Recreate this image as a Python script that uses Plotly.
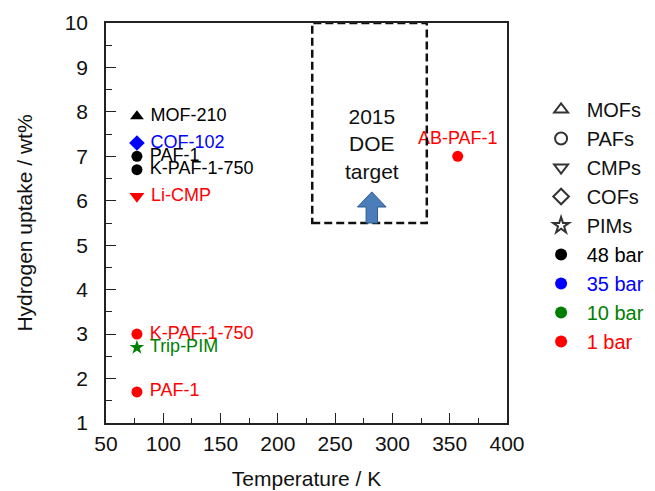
import plotly.graph_objects as go

# ---------------- data ----------------
labels = ["MOF-210", "COF-102", "PAF-1", "K-PAF-1-750", "Li-CMP",
          "K-PAF-1-750", "Trip-PIM", "PAF-1", "AB-PAF-1"]
temperature_K = [77, 77, 77, 77, 77, 77, 77, 77, 357]
uptake_wt = [7.9, 7.3, 7.0, 6.7, 6.1, 3.0, 2.7, 1.7, 7.0]
material_class = ["MOFs", "COFs", "PAFs", "PAFs", "CMPs", "PAFs", "PIMs", "PAFs", "PAFs"]
pressure = ["48 bar", "35 bar", "48 bar", "48 bar", "1 bar", "1 bar", "10 bar", "1 bar", "1 bar"]

class_names = ["MOFs", "PAFs", "CMPs", "COFs", "PIMs"]
pressure_names = ["48 bar", "35 bar", "10 bar", "1 bar"]

# DOE 2015 target region
target_T = [230, 330]
target_wt = [5.5, 10]
target_text = ["2015", "DOE", "target"]

x_ticks = [50, 100, 150, 200, 250, 300, 350, 400]
y_ticks = [1, 2, 3, 4, 5, 6, 7, 8, 9, 10]

# ---------------- styles ----------------
symbol_of = {"MOFs": "triangle-up", "PAFs": "circle", "CMPs": "triangle-down",
             "COFs": "diamond", "PIMs": "star"}
size_of = {"MOFs": 12, "PAFs": 11, "CMPs": 13, "COFs": 12, "PIMs": 11}
color_of = {"48 bar": "#000000", "35 bar": "#0000FF", "10 bar": "#008000", "1 bar": "#FF0000"}
FONT = "Liberation Sans, Arial, sans-serif"
NBSP = "\u00a0"

fig = go.Figure()

# data points
for i in range(len(labels)):
    c = color_of[pressure[i]]
    right = temperature_K[i] < 200
    fig.add_trace(go.Scatter(
        x=[temperature_K[i]], y=[uptake_wt[i]],
        mode="markers+text",
        text=[(NBSP + labels[i]) if right else labels[i]],
        textposition="middle right" if right else "top center",
        textfont=dict(family=FONT, size=18, color=c),
        marker=dict(symbol=symbol_of[material_class[i]], size=size_of[material_class[i]],
                    color=c, line=dict(width=0)),
        showlegend=False, hoverinfo="skip", cliponaxis=False))

# legend proxies: classes (open symbols)
for i, name in enumerate(class_names):
    fig.add_trace(go.Scatter(
        x=[None], y=[None], mode="markers", name=NBSP + name,
        legendgroup="g%d" % i,
        marker=dict(symbol=symbol_of[name] + "-open", size=13, color="#333333",
                    line=dict(width=1.2, color="#333333"))))
# legend proxies: pressures (filled circles)
for j, name in enumerate(pressure_names):
    c = color_of[name]
    fig.add_trace(go.Scatter(
        x=[None], y=[None], mode="markers",
        name='<span style="color:%s">%s%s</span>' % (c, NBSP, name),
        legendgroup="p%d" % j,
        marker=dict(symbol="circle", size=12, color=c)))

# DOE target box
fig.add_shape(type="rect", xref="x", yref="y",
              x0=target_T[0], x1=target_T[1], y0=target_wt[0], y1=target_wt[1],
              line=dict(color="#111111", width=2.5, dash="8px,4px"))
tx = (target_T[0] + target_T[1]) / 2 + 2
fig.add_annotation(x=tx, y=7.27, xref="x", yref="y",
                   text="<br>".join(target_text), showarrow=False,
                   font=dict(family=FONT, size=21, color="#111111"),
                   align="center")

# block arrow pointing up from the bottom of the target box
ax_c, a_base, a_tip = tx, target_wt[0], 6.2
shaft_hw, head_hw, head_h = 5.0, 12.5, 0.34
p = [(ax_c - shaft_hw, a_base), (ax_c - shaft_hw, a_tip - head_h), (ax_c - head_hw, a_tip - head_h),
     (ax_c, a_tip), (ax_c + head_hw, a_tip - head_h), (ax_c + shaft_hw, a_tip - head_h),
     (ax_c + shaft_hw, a_base)]
path = "M " + " L ".join("%g,%g" % q for q in p) + " Z"
fig.add_shape(type="path", xref="x", yref="y", path=path,
              fillcolor="#4A7DBA", line=dict(color="#2F5D92", width=1))

axis_common = dict(
    showline=True, linecolor="#222222", linewidth=1.5, mirror=True,
    ticks="inside", ticklen=10, tickwidth=1.3, tickcolor="#222222",
    showgrid=False, zeroline=False,
    tickfont=dict(family=FONT, size=21, color="#111111"),
)
fig.update_xaxes(range=[50, 400], tickvals=x_ticks, ticklabelstandoff=1,
                 minor=dict(dtick=25, ticks="inside", ticklen=5, tickwidth=1.3, tickcolor="#222222"),
                 title=dict(text="Temperature / K", standoff=17,
                            font=dict(family=FONT, size=21, color="#111111")),
                 **axis_common)
fig.update_yaxes(range=[1, 10], tickvals=y_ticks, ticklabelstandoff=12,
                 minor=dict(dtick=0.5, ticks="inside", ticklen=6, tickwidth=1.3, tickcolor="#222222"),
                 title=dict(text="Hydrogen uptake / wt%", standoff=26,
                            font=dict(family=FONT, size=21, color="#111111")),
                 **axis_common)

fig.update_layout(
    width=655, height=491,
    margin=dict(l=98, r=156, t=15, b=76, autoexpand=False),
    paper_bgcolor="white", plot_bgcolor="white",
    legend=dict(x=1.085, y=0.8325, xanchor="left", yanchor="top",
                font=dict(family=FONT, size=20, color="#111111"),
                tracegroupgap=0, itemsizing="constant", bgcolor="rgba(0,0,0,0)"),
)

fig.write_html("out.html")
